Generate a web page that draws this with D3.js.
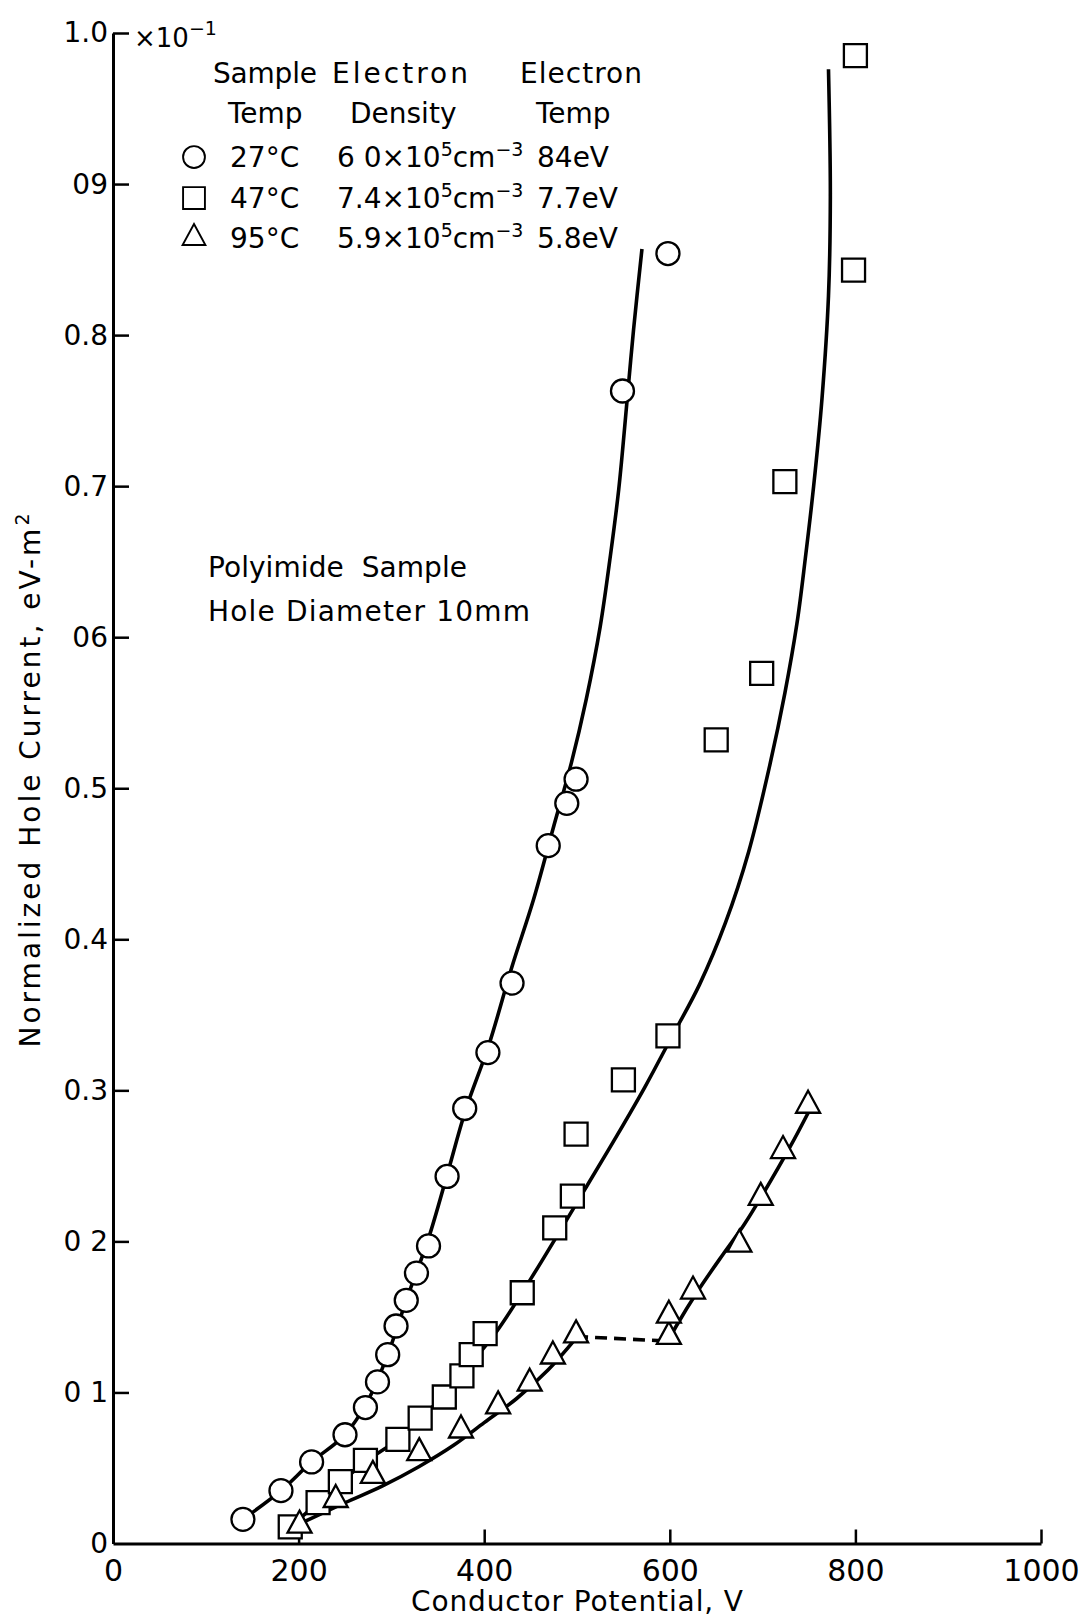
<!DOCTYPE html>
<html><head><meta charset="utf-8">
<script src="https://cdn.jsdelivr.net/npm/d3@7"></script>
<style>
body{margin:0;background:#fff}
svg text{font-family:"DejaVu Sans","Liberation Sans",sans-serif;fill:#000}
</style></head><body>
<svg id="c" width="1084" height="1622"></svg>
<script>
// ---------- data ----------
const xTicks = [0, 200, 400, 600, 800, 1000];
const xTickLabels = ["0", "200", "400", "600", "800", "1000"];
const yTicks = [0, 0.1, 0.2, 0.3, 0.4, 0.5, 0.6, 0.7, 0.8, 0.9, 1.0];
const yTickLabels = ["0", "0 1", "0 2", "0.3", "0.4", "0.5", "06", "0.7", "0.8", "09", "1.0"];

// 27°C (circles)
const circV = [140, 181, 214, 250, 272, 285, 296, 305, 316, 327, 340, 360, 379, 404, 430, 469, 489, 499, 549, 598];
const circI = [0.016, 0.035, 0.054, 0.072, 0.090, 0.107, 0.125, 0.144, 0.161, 0.179, 0.197, 0.243, 0.288, 0.325, 0.371, 0.462, 0.490, 0.506, 0.763, 0.854];
// 47°C (squares)
const sqV = [191, 221, 245, 272, 307, 331, 357, 376, 386, 401, 441, 476, 495, 499, 550, 598, 650, 699, 724, 798, 800];
const sqI = [0.011, 0.027, 0.041, 0.055, 0.069, 0.083, 0.097, 0.111, 0.125, 0.139, 0.166, 0.209, 0.230, 0.271, 0.307, 0.336, 0.532, 0.576, 0.703, 0.843, 0.985];
// 95°C (triangles)
const triV = [201, 240, 280, 330, 375, 415, 449, 474, 499, 599, 599, 625, 675, 698, 722, 749];
const triI = [0.012, 0.029, 0.045, 0.060, 0.075, 0.091, 0.106, 0.124, 0.138, 0.137, 0.151, 0.167, 0.198, 0.229, 0.260, 0.290];

// fitted curves
const circFitV = [140, 181, 214, 250, 275, 296, 316, 340, 360, 380, 405, 430, 453, 475, 494, 510, 525, 536, 545, 554, 561, 570];
const circFitI = [0.016, 0.035, 0.054, 0.072, 0.095, 0.125, 0.161, 0.202, 0.244, 0.287, 0.330, 0.382, 0.426, 0.475, 0.517, 0.559, 0.607, 0.654, 0.698, 0.757, 0.804, 0.857];
const sqFitV = [191, 221, 245, 272, 307, 331, 357, 380, 413, 451, 509, 543, 573, 600, 632, 660, 685, 708, 724, 737, 746, 755, 764, 771, 773, 771];
const sqFitI = [0.011, 0.027, 0.040, 0.054, 0.069, 0.083, 0.098, 0.115, 0.140, 0.176, 0.235, 0.270, 0.302, 0.333, 0.370, 0.411, 0.458, 0.516, 0.563, 0.609, 0.652, 0.700, 0.758, 0.826, 0.892, 0.976];
const triFitLowV = [201, 250, 290, 330, 367, 400, 435, 469, 499];
const triFitLowI = [0.013, 0.027, 0.038, 0.051, 0.065, 0.080, 0.096, 0.115, 0.136];
const triDashV = [499, 599];
const triDashI = [0.137, 0.134];
const triFitHighV = [598, 607, 630, 658, 680, 701, 730, 749];
const triFitHighI = [0.134, 0.144, 0.167, 0.192, 0.211, 0.232, 0.263, 0.285];

// legend table
const legendHead1 = ["Sample", "Electron", "Electron"];
const legendHead2 = ["Temp", "Density", "Temp"];
const legendShapes = ["circle", "square", "triangle"];
const legendTemp = ["27°C", "47°C", "95°C"];
const legendDens = ["6 0", "7.4", "5.9"];
const legendETemp = ["84eV", "7.7eV", "5.8eV"];
const noteLines = ["Polyimide  Sample", "Hole Diameter 10mm"];

// ---------- layout ----------
const svg = d3.select("#c");
const x = d3.scaleLinear().domain([0, 1000]).range([113, 1041]);
const y = d3.scaleLinear().domain([0, 1]).range([1543.5, 33]);

// axes
const xAxis = svg.append("g").attr("transform", `translate(0,${y(0)})`)
  .call(d3.axisBottom(x).tickValues(xTicks).tickSizeInner(-14).tickSizeOuter(0)
    .tickPadding(16).tickFormat((d, i) => xTickLabels[i]));
const yAxis = svg.append("g").attr("transform", `translate(${x(0)},0)`)
  .call(d3.axisLeft(y).tickValues(yTicks).tickSizeInner(-16).tickSizeOuter(0)
    .tickPadding(5).tickFormat((d, i) => yTickLabels[i]));
[xAxis, yAxis].forEach(g => {
  g.select(".domain").attr("stroke", "#000").attr("stroke-width", 3);
  g.selectAll(".tick line").attr("stroke", "#000").attr("stroke-width", 2.5);
  g.selectAll(".tick text").attr("font-family", null).style("font-family", '"DejaVu Sans",sans-serif').attr("fill", "#000");
});
xAxis.selectAll(".tick text").style("font-size", "30px");
yAxis.selectAll(".tick text").style("font-size", "28px");
yAxis.selectAll(".tick").filter(d => d === 0).select("line").remove();
xAxis.selectAll(".tick").filter(d => d === 0).select("line").remove();

// x10^-1
const mult = svg.append("text").attr("x", 134).attr("y", 47).style("font-size", "26px");
mult.append("tspan").text("×10");
mult.append("tspan").attr("dy", -12).style("font-size", "19px").text("−1");

// axis titles
svg.append("text").attr("x", (x(0) + x(1000)) / 2).attr("y", 1611)
  .attr("text-anchor", "middle").style("font-size", "28px").attr("textLength", 332)
  .text("Conductor Potential, V");
const yl = svg.append("text").attr("transform", "translate(40,779) rotate(-90)")
  .attr("text-anchor", "middle").style("font-size", "28px").style("letter-spacing", "3px");
yl.append("tspan").text("Normalized Hole Current, eV-m");
yl.append("tspan").attr("dy", -11).style("font-size", "19px").text("2");

// curves
const line = d3.line().x(d => x(d[0])).y(d => y(d[1])).curve(d3.curveCatmullRom.alpha(0.5));
const zip = (a, b) => a.map((v, i) => [v, b[i]]);
const curves = [
  [zip(circFitV, circFitI), null],
  [zip(sqFitV, sqFitI), null],
  [zip(triFitLowV, triFitLowI), null],
  [zip(triDashV, triDashI), "12,7"],
  [zip(triFitHighV, triFitHighI), null]
];
curves.forEach(([pts, dash]) => {
  svg.append("path").attr("d", line(pts)).attr("fill", "none").attr("stroke", "#000")
    .attr("stroke-width", 3.6).attr("stroke-dasharray", dash);
});

// markers
function shapePath(kind) {
  if (kind === "circle") return d3.symbol(d3.symbolCircle, Math.PI * 11.5 * 11.5)();
  if (kind === "square") return "M-11.5,-11.5H11.5V11.5H-11.5Z";
  return "M0,-14.7L12,7.3H-12Z";
}
function drawMarkers(vs, is, kind) {
  svg.append("g").selectAll("path").data(zip(vs, is)).join("path")
    .attr("d", shapePath(kind))
    .attr("transform", d => `translate(${x(d[0])},${y(d[1])})`)
    .attr("fill", "#fff").attr("stroke", "#000").attr("stroke-width", 2.3);
}
drawMarkers(circV, circI, "circle");
drawMarkers(sqV, sqI, "square");
drawMarkers(triV, triI, "triangle");

// legend
const headX = [213, 332, 520];
const headW = [104, 136, 122];
const headX2 = [228, 350, 536];
legendHead1.forEach((t, i) => svg.append("text").attr("x", headX[i]).attr("y", 83)
  .style("font-size", "28px").attr("textLength", headW[i]).text(t));
legendHead2.forEach((t, i) => svg.append("text").attr("x", headX2[i]).attr("y", 123)
  .style("font-size", "28px").text(t));
const rowY = [167, 208, 248];
legendShapes.forEach((k, i) => {
  svg.append("path").attr("d", shapePath(k))
    .attr("transform", `translate(194,${rowY[i] - 10}) scale(0.95)`)
    .attr("fill", "#fff").attr("stroke", "#000").attr("stroke-width", 2);
  svg.append("text").attr("x", 230).attr("y", rowY[i]).style("font-size", "28px")
    .text(legendTemp[i]);
  const dt = svg.append("text").attr("x", 337).attr("y", rowY[i]).style("font-size", "28px");
  dt.append("tspan").text(legendDens[i] + "×10");
  dt.append("tspan").attr("dy", -11).style("font-size", "19px").text("5");
  dt.append("tspan").attr("dy", 11).style("font-size", "28px").text("cm");
  dt.append("tspan").attr("dy", -11).style("font-size", "19px").text("−3");
  svg.append("text").attr("x", 537).attr("y", rowY[i]).style("font-size", "28px")
    .text(legendETemp[i]);
});

// note
const noteY = [577, 621];
const noteW = [259, 322];
noteLines.forEach((t, i) => svg.append("text").attr("x", 208).attr("y", noteY[i])
  .style("font-size", "28px").attr("xml:space", "preserve")
  .attr("textLength", noteW[i]).text(t));
</script>
</body></html>
